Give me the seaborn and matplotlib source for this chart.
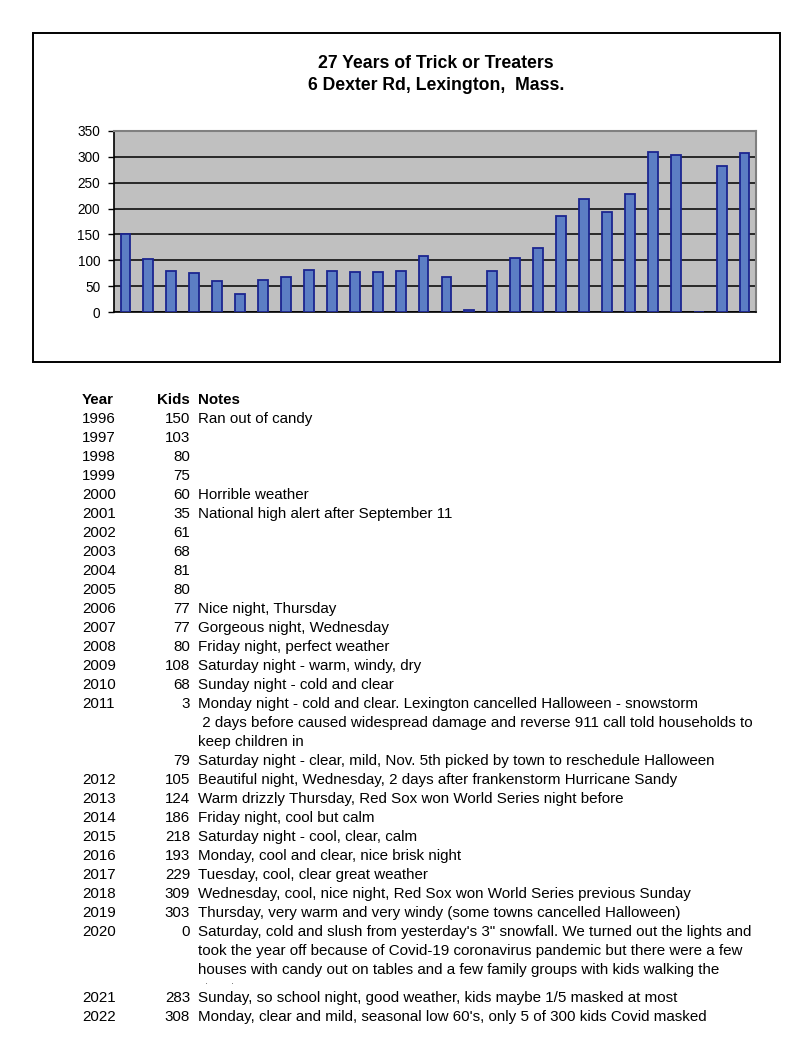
import matplotlib
matplotlib.use("Agg")
import matplotlib.pyplot as plt
from matplotlib.patches import Rectangle
from matplotlib.transforms import Bbox, TransformedBbox
import pandas as pd
import seaborn as sns

# table data
years = ["1996", "1997", "1998", "1999", "2000", "2001", "2002", "2003", "2004",
         "2005", "2006", "2007", "2008", "2009", "2010", "2011", "", "2012",
         "2013", "2014", "2015", "2016", "2017", "2018", "2019", "2020", "2021",
         "2022"]
kids = [150, 103, 80, 75, 60, 35, 61, 68, 81, 80, 77, 77, 80, 108, 68, 3, 79,
        105, 124, 186, 218, 193, 229, 309, 303, 0, 283, 308]
notes = [
    "Ran out of candy",
    "",
    "",
    "",
    "Horrible weather",
    "National high alert after September 11",
    "",
    "",
    "",
    "",
    "Nice night, Thursday",
    "Gorgeous night, Wednesday",
    "Friday night, perfect weather",
    "Saturday night - warm, windy, dry",
    "Sunday night - cold and clear",
    "Monday night - cold and clear. Lexington cancelled Halloween - snowstorm\n"
    " 2 days before caused widespread damage and reverse 911 call told households to\n"
    "keep children in",
    "Saturday night - clear, mild, Nov. 5th picked by town to reschedule Halloween",
    "Beautiful night, Wednesday, 2 days after frankenstorm Hurricane Sandy",
    "Warm drizzly Thursday, Red Sox won World Series night before",
    "Friday night, cool but calm",
    "Saturday night - cool, clear, calm",
    "Monday, cool and clear, nice brisk night",
    "Tuesday, cool, clear great weather",
    "Wednesday, cool, nice night, Red Sox won World Series previous Sunday",
    "Thursday, very warm and very windy (some towns cancelled Halloween)",
    "Saturday, cold and slush from yesterday's 3\" snowfall. We turned out the lights and\n"
    "took the year off because of Covid-19 coronavirus pandemic but there were a few\n"
    "houses with candy out on tables and a few family groups with kids walking the\n"
    "streets.",
    "Sunday, so school night, good weather, kids maybe 1/5 masked at most",
    "Monday, clear and mild, seasonal low 60's, only 5 of 300 kids Covid masked",
]
title_lines = ["27 Years of Trick or Treaters", "6 Dexter Rd, Lexington,  Mass."]

W, H = 802, 1054
plt.rcParams["font.family"] = ["Liberation Sans", "DejaVu Sans"]

fig = plt.figure(figsize=(W / 100, H / 100), dpi=100)


def fx(x):
    return x / W


def fy(y):
    return 1 - y / H


# chart frame
fig.add_artist(Rectangle((fx(33), fy(362)), fx(780) - fx(33), fy(33) - fy(362),
                         transform=fig.transFigure, fill=False,
                         edgecolor="black", lw=1.4))
fig.text(fx(436), fy(63), title_lines[0], ha="center", va="center",
         fontsize=12.7, fontweight="bold")
fig.text(fx(436), fy(85), title_lines[1], ha="center", va="center",
         fontsize=12.7, fontweight="bold")

# bar chart
df = pd.DataFrame({"slot": [f"{y}_{i}" for i, y in enumerate(years)],
                   "kids": kids})
ax = fig.add_axes([fx(114), fy(312), fx(756) - fx(114), fy(131) - fy(312)])
sns.barplot(data=df, x="slot", y="kids", color="#5C7EC4", saturation=1,
            edgecolor="#1B2590", linewidth=1.3, width=0.43, ax=ax, zorder=3)
ax.set_facecolor("#C0C0C0")
ax.set_xlim(-0.5, len(kids) - 0.5)
ax.set_ylim(0, 350)
ax.set_yticks(range(0, 351, 50))
ax.set_xticks([])
ax.set_xlabel("")
ax.set_ylabel("")
ax.yaxis.grid(True, color="black", lw=1.1)
ax.set_axisbelow(True)
ax.tick_params(axis="y", length=4, width=1, pad=6, labelsize=9.8)
for side in ["top", "right"]:
    ax.spines[side].set_color("#808080")
    ax.spines[side].set_linewidth(1.5)
for side in ["left", "bottom"]:
    ax.spines[side].set_color("black")
    ax.spines[side].set_linewidth(1.2)

# table below the chart
fs = 10.9
line_h = 19.0
fig.text(fx(82), fy(400), "Year", ha="left", va="center", fontsize=fs,
         fontweight="bold")
fig.text(fx(190), fy(400), "Kids", ha="right", va="center", fontsize=fs,
         fontweight="bold")
fig.text(fx(198), fy(400), "Notes", ha="left", va="center", fontsize=fs,
         fontweight="bold")

y = 419
for yr, k, note in zip(years, kids, notes):
    lines = note.split("\n")
    cell_h = min(len(lines), 3.45) * line_h
    top = y - line_h / 2
    # the tall 2020 cell cuts its last wrapped line off, as in the sheet
    clip_h = min(len(lines), 3.22) * line_h
    clip = TransformedBbox(Bbox.from_extents(0, fy(top + clip_h), 1, fy(top)),
                           fig.transFigure)
    fig.text(fx(82), fy(y), yr, ha="left", va="center", fontsize=fs)
    fig.text(fx(190), fy(y), str(k), ha="right", va="center", fontsize=fs)
    for j, ln in enumerate(lines):
        t = fig.text(fx(198), fy(y + j * line_h), ln, ha="left", va="center",
                     fontsize=fs)
        t.set_clip_box(clip)
        t.set_clip_on(True)
    y += cell_h

fig.savefig("out.png", dpi=100)
